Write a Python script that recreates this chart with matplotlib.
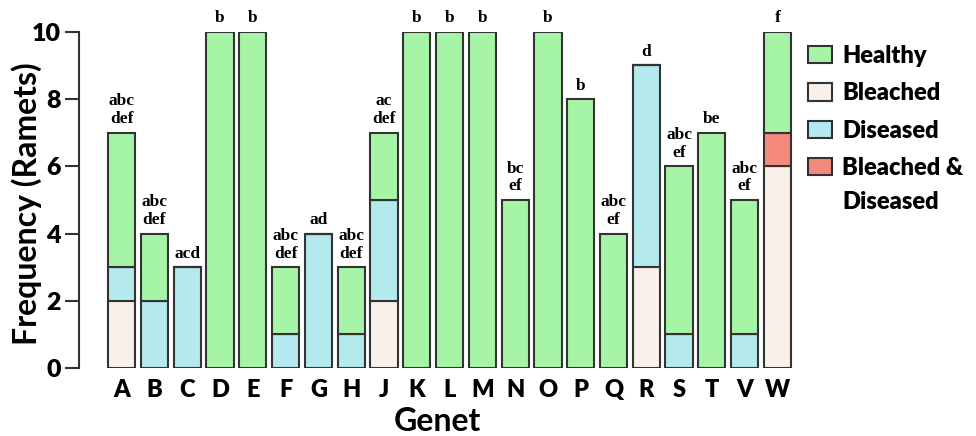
import matplotlib
matplotlib.use('Agg')
import matplotlib.pyplot as plt
from matplotlib.patches import Patch
import numpy as np

genets = list('ABCDEFGHJKLMNOPQRSTVW')
bleached = [2, 0, 0, 0, 0, 0, 0, 0, 2, 0, 0, 0, 0, 0, 0, 0, 3, 0, 0, 0, 6]
diseased = [1, 2, 3, 0, 0, 1, 4, 1, 3, 0, 0, 0, 0, 0, 0, 0, 6, 1, 0, 1, 0]
bleached_diseased = [0, 0, 0, 0, 0, 0, 0, 0, 0, 0, 0, 0, 0, 0, 0, 0, 0, 0, 0, 0, 1]
healthy = [4, 2, 0, 10, 10, 2, 0, 2, 2, 10, 10, 10, 5, 10, 8, 4, 0, 5, 7, 4, 3]
letters = ['abc\ndef', 'abc\ndef', 'acd', 'b', 'b', 'abc\ndef', 'ad', 'abc\ndef', 'ac\ndef',
           'b', 'b', 'b', 'bc\nef', 'b', 'b', 'abc\nef', 'd', 'abc\nef', 'be', 'abc\nef', 'f']

colors = {'Healthy': '#a6f5a6', 'Bleached': '#f9f0ea', 'Diseased': '#b4e9ee',
          'Bleached & Diseased': '#f48a7c'}
edge = '#333333'
font = 'Lato'

fig = plt.figure(figsize = (9.76, 4.36), dpi = 100)
ax = fig.add_axes([0.081, 0.156, 0.734, 0.771])

x = np.arange(len(genets))
width = 0.83
bottom = np.zeros(len(genets))
for name, values in [('Bleached', bleached), ('Diseased', diseased),
                     ('Bleached & Diseased', bleached_diseased), ('Healthy', healthy)]:
    values = np.array(values, dtype = float)
    ax.bar(x, values, width, bottom = bottom, color = colors[name], edgecolor = edge, linewidth = 1.5)
    bottom += values

# significance letters above each bar
for xi, total, lab in zip(x, bottom, letters):
    ax.annotate(lab, (xi, total), xytext = (0, 4), textcoords = 'offset points',
                ha = 'center', va = 'bottom', fontsize = 12.5, fontweight = 'bold',
                family = 'Liberation Serif', linespacing = 1.15, annotation_clip = False)

ax.set_xlim(-1.3, 20.55)
ax.set_ylim(0, 10)
ax.set_xticks(x)
ax.set_xticklabels(genets, fontsize = 17, fontweight = 'heavy', family = font)
ax.set_yticks([0, 2, 4, 6, 8, 10])
ax.set_yticklabels(['0', '2', '4', '6', '8', '10'], fontsize = 18, fontweight = 'heavy', family = font)
ax.tick_params(axis = 'x', length = 0, pad = 8)
ax.tick_params(axis = 'y', length = 10, width = 1.5, color = edge, pad = 3)

for side in ['top', 'right', 'bottom']:
    ax.spines[side].set_visible(False)
ax.spines['left'].set_linewidth(1.5)
ax.spines['left'].set_color(edge)

ax.set_ylabel('Frequency (Ramets)', fontsize = 23, fontweight = 'bold', family = font)
ax.yaxis.set_label_coords(-0.052, 0.49)
ax.set_xlabel('Genet', fontsize = 23, fontweight = 'bold', family = font, labelpad = 4)

# legend: the last entry wraps, with its patch next to the first line
legend_names = ['Healthy', 'Bleached', 'Diseased', 'Bleached & Diseased']
legend_labels = ['Healthy', 'Bleached', 'Diseased', 'Bleached &']
handles = [Patch(facecolor = colors[n], edgecolor = edge, linewidth = 1.5, label = l)
           for n, l in zip(legend_names, legend_labels)]
leg = fig.legend(handles = handles, loc = 'upper left', bbox_to_anchor = (0.828, 0.897), frameon = False,
                 prop = {'family': font, 'weight': 'heavy', 'size': 17},
                 handlelength = 1.0, handleheight = 0.75, handletextpad = 0.45, labelspacing = 0.65,
                 borderpad = 0, borderaxespad = 0)

fig.canvas.draw()
bb = leg.get_texts()[3].get_window_extent()
x_fig, y_fig = fig.transFigure.inverted().transform((bb.x0, bb.y0 - 34))
fig.text(x_fig, y_fig, 'Diseased', ha = 'left', va = 'bottom',
         family = font, fontweight = 'heavy', fontsize = 17)

fig.savefig('out.png', dpi = 100)
